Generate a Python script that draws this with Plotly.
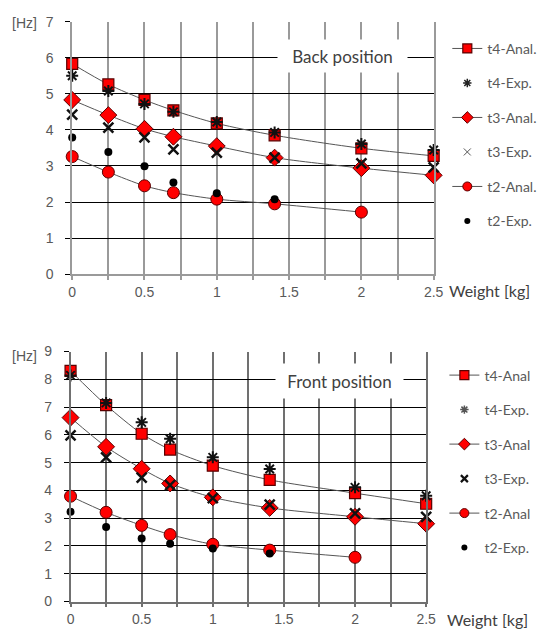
import plotly.graph_objects as go

# ---------------- data ----------------
weights = [0, 0.25, 0.5, 0.7, 1.0, 1.4, 2.0, 2.5]
weights_t2a = [0, 0.25, 0.5, 0.7, 1.0, 1.4, 2.0]
weights_t2e = [0, 0.25, 0.5, 0.7, 1.0, 1.4]

# Back position
back_t4_anal = [5.83, 5.26, 4.83, 4.54, 4.18, 3.85, 3.49, 3.28]
back_t4_exp = [5.50, 5.08, 4.72, 4.50, 4.22, 3.93, 3.61, 3.44]
back_t3_anal = [4.83, 4.41, 4.03, 3.81, 3.55, 3.23, 2.94, 2.74]
back_t3_exp = [4.42, 4.06, 3.79, 3.46, 3.37, 3.23, 3.07, 2.96]
back_t2_anal = [3.26, 2.83, 2.45, 2.26, 2.08, 1.95, 1.72]
back_t2_exp = [3.79, 3.39, 2.99, 2.54, 2.24, 2.08]

# Front position
front_t4_anal = [8.30, 7.07, 6.04, 5.47, 4.89, 4.38, 3.90, 3.52]
front_t4_exp = [8.14, 7.15, 6.45, 5.86, 5.19, 4.77, 4.11, 3.81]
front_t3_anal = [6.62, 5.57, 4.78, 4.25, 3.75, 3.37, 3.05, 2.80]
front_t3_exp = [5.98, 5.19, 4.46, 4.19, 3.72, 3.49, 3.17, 3.05]
front_t2_anal = [3.79, 3.21, 2.74, 2.41, 2.06, 1.85, 1.59]
front_t2_exp = [3.23, 2.68, 2.27, 2.08, 1.91, 1.73]

back_names = ["t4-Anal.", "t4-Exp.", "t3-Anal.", "t3-Exp.", "t2-Anal.", "t2-Exp."]
front_names = ["t4-Anal", "t4-Exp.", "t3-Anal", "t3-Exp.", "t2-Anal", "t2-Exp."]

# ---------------- figure ----------------
fig = go.Figure()

RED = "#ff0000"
LINE = "#555555"
EDGE = "#5a0000"


def series_styles(big, exp3_col, exp3_w, exp4_col):
    return [
        dict(mode="lines+markers", line=dict(color=LINE, width=1, shape="spline", smoothing=0.8),
             marker=dict(symbol="square", size=11 if big else 9, color=RED,
                         line=dict(color=EDGE, width=1.2))),
        dict(mode="markers",
             marker=dict(symbol="asterisk-open", size=10 if big else 7, color=exp4_col,
                         line=dict(color=exp4_col, width=2 if big else 1.5))),
        dict(mode="lines+markers", line=dict(color=LINE, width=1, shape="spline", smoothing=0.8),
             marker=dict(symbol="diamond", size=13 if big else 9, color=RED,
                         line=dict(color=EDGE, width=1))),
        dict(mode="markers",
             marker=dict(symbol="x-thin-open", size=10 if big else 7, color=exp3_col,
                         line=dict(color=exp3_col, width=exp3_w))),
        dict(mode="lines+markers", line=dict(color=LINE, width=1, shape="spline", smoothing=0.8),
             marker=dict(symbol="circle", size=12 if big else 9, color=RED,
                         line=dict(color=EDGE, width=1))),
        dict(mode="markers", marker=dict(symbol="circle", size=8 if big else 6, color="#000000")),
    ]


def add_panel(xa, ya, legend, names, values, leg_exp3, leg_exp4, tag):
    xs = [weights, weights, weights, weights, weights_t2a, weights_t2e]
    data_styles = series_styles(True, "#111111", 2.5, "#111111")
    leg_styles = series_styles(False, leg_exp3[0], leg_exp3[1], leg_exp4)
    for i in range(6):
        fig.add_trace(go.Scatter(x=xs[i], y=values[i], name=names[i], xaxis=xa, yaxis=ya,
                                 showlegend=False, cliponaxis=False, **data_styles[i]))
    for i in range(6):
        # legend entries (smaller symbols as in the original legend)
        fig.add_trace(go.Scatter(x=[None], y=[None], name=names[i], xaxis=xa, yaxis=ya,
                                 legend=legend, legendgroup=tag + str(i), showlegend=True,
                                 **leg_styles[i]))


add_panel("x", "y", "legend", back_names,
          [back_t4_anal, back_t4_exp, back_t3_anal, back_t3_exp, back_t2_anal, back_t2_exp],
          ("#555555", 1), "#222222", "b")
add_panel("x2", "y2", "legend2", front_names,
          [front_t4_anal, front_t4_exp, front_t3_anal, front_t3_exp, front_t2_anal, front_t2_exp],
          ("#111111", 2.2), "#555555", "f")

W, H = 545, 641
tickfont = dict(family="Liberation Sans, Arial, sans-serif", size=14, color="#595959")


def xaxis(domain, anchor, gridcol):
    return dict(domain=domain, anchor=anchor, range=[0, 2.5], tick0=0, dtick=0.5,
                showgrid=True, gridcolor=gridcol, gridwidth=1.5, zeroline=False,
                showline=True, linecolor=gridcol, linewidth=1.5,
                ticks="outside", ticklen=4, tickcolor=gridcol, tickwidth=1.5,
                minor=dict(dtick=0.25, tick0=0, showgrid=True, gridcolor=gridcol, gridwidth=1.5,
                           ticks="outside", ticklen=4, tickcolor=gridcol),
                tickfont=tickfont, ticklabelstandoff=0, fixedrange=True)


def yaxis(domain, anchor, top, gridcol):
    return dict(domain=domain, anchor=anchor, range=[0, top], dtick=1,
                showgrid=True, gridcolor="#000000", gridwidth=1, zeroline=False,
                showline=True, linecolor=gridcol, linewidth=1.5, mirror=True,
                ticks="outside", ticklen=5, tickcolor="#000000", tickwidth=1,
                tickfont=tickfont, ticklabelstandoff=9, fixedrange=True)


legfont = dict(family="Lato, sans-serif", size=14, color="#595959")
fig.update_layout(
    width=W, height=H,
    margin=dict(l=0, r=0, t=0, b=0),
    paper_bgcolor="white", plot_bgcolor="white",
    xaxis=xaxis([70 / W, 441 / W], "y", "#9a9a9a"),
    yaxis=yaxis([1 - 273 / H, 1 - 14 / H], "x", 7, "#9a9a9a"),
    xaxis2=xaxis([68.3 / W, 433.3 / W], "y2", "#707070"),
    yaxis2=yaxis([1 - 608.7 / H, 1 - 352.3 / H], "x2", 9, "#707070"),
    legend=dict(x=455 / W, xanchor="left", y=1 - 25.5 / H, yanchor="top",
                traceorder="grouped", tracegroupgap=13.3, bgcolor="rgba(0,0,0,0)", font=legfont),
    legend2=dict(x=452 / W, xanchor="left", y=1 - 360.5 / H, yanchor="top",
                 traceorder="grouped", tracegroupgap=13.3, bgcolor="rgba(0,0,0,0)", font=legfont),
    showlegend=True,
)

ann_font = dict(family="Lato, sans-serif", size=17, color="#404040")
lab_font = dict(family="Lato, sans-serif", size=16, color="#404040")
hz_font = dict(family="Liberation Sans, Arial, sans-serif", size=14, color="#595959")

fig.add_annotation(text="Back position", xref="paper", yref="paper",
                   x=347 / W, y=1 - 49 / H, xanchor="center", yanchor="middle",
                   showarrow=False, bgcolor="white", width=127, height=30, font=ann_font)
fig.add_annotation(text="Front position", xref="paper", yref="paper",
                   x=344 / W, y=1 - 383 / H, xanchor="center", yanchor="middle",
                   showarrow=False, bgcolor="white", width=125, height=32, font=ann_font)
fig.add_annotation(text="[Hz]", xref="paper", yref="paper",
                   x=21.5 / W, y=1 - 15 / H, xanchor="center", yanchor="middle",
                   showarrow=False, font=hz_font)
fig.add_annotation(text="[Hz]", xref="paper", yref="paper",
                   x=21.5 / W, y=1 - 356.7 / H, xanchor="center", yanchor="middle",
                   showarrow=False, font=hz_font)
fig.add_annotation(text="Weight [kg]", xref="paper", yref="paper",
                   x=455 / W, y=1 - 290 / H, xanchor="left", yanchor="middle",
                   showarrow=False, font=lab_font)
fig.add_annotation(text="Weight [kg]", xref="paper", yref="paper",
                   x=453 / W, y=1 - 627 / H, xanchor="left", yanchor="middle",
                   showarrow=False, font=lab_font)

fig.write_html("out.html")
